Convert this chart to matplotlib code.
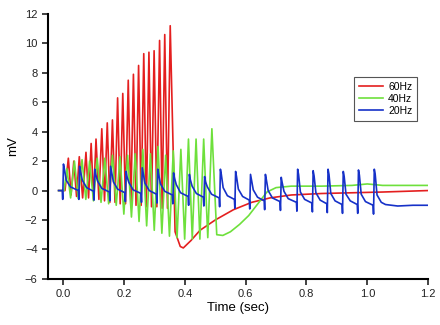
import numpy as np
import matplotlib
matplotlib.use("Agg")
import matplotlib.pyplot as plt

plt.rcParams['font.family'] = ['Liberation Sans', 'DejaVu Sans']

# 60Hz trace: spike peaks, troughs between them, and recovery after the train
red_peak_t = [0.017, 0.035, 0.053, 0.075, 0.092, 0.108, 0.127, 0.145, 0.162, 0.179,
              0.196, 0.214, 0.231, 0.248, 0.265, 0.282, 0.299, 0.317, 0.334, 0.352]
red_peak_v = [2.2, 2.0, 2.3, 2.6, 3.2, 3.5, 4.2, 4.6, 4.8, 6.3,
              6.6, 7.5, 7.9, 8.5, 9.3, 9.4, 9.5, 10.2, 10.6, 11.2]
red_trough_v = [-0.3, -0.4, -0.5, -0.5, -0.6, -0.6, -0.7, -0.8, -0.8, -0.9,
                -0.9, -1.0, -1.0, -1.0, -1.1, -1.1, -1.1, -1.2, -1.2]
red_tail_t = [0.368, 0.385, 0.395, 0.42, 0.45, 0.5, 0.56, 0.62, 0.68, 0.75, 0.85, 0.95, 1.05, 1.2]
red_tail_v = [-2.8, -3.8, -3.9, -3.4, -2.7, -2.0, -1.3, -0.8, -0.5, -0.3, -0.2, -0.15, -0.1, 0.0]

# 40Hz trace
green_peak_t = [0.012, 0.037, 0.062, 0.087, 0.112, 0.137, 0.162, 0.187, 0.212, 0.237,
                0.262, 0.287, 0.312, 0.337, 0.362, 0.387, 0.412, 0.437, 0.462, 0.489]
green_peak_v = [1.5, 2.0, 2.1, 2.0, 2.2, 2.2, 2.4, 2.3, 2.4, 2.5,
                2.8, 2.5, 3.0, 2.4, 2.7, 2.8, 3.5, 3.5, 3.5, 4.2]
green_trough_v = [-0.5, -0.55, -0.6, -0.7, -0.8, -0.9, -1.0, -1.6, -1.8, -2.1,
                  -2.4, -2.7, -2.9, -3.1, -3.2, -3.3, -3.3, -3.3, -3.2]
green_tail_t = [0.505, 0.525, 0.55, 0.58, 0.61, 0.64, 0.67, 0.7, 0.75, 0.85, 0.95, 1.0, 1.05, 1.2]
green_tail_v = [-3.0, -3.05, -2.8, -2.3, -1.7, -0.9, -0.1, 0.2, 0.3, 0.3, 0.35, 0.45, 0.35, 0.35]

# 20Hz trace: level before each spike, onset dip, peak, then the decay
blue_peak_t = [0.0, 0.053, 0.103, 0.155, 0.206, 0.259, 0.31, 0.362, 0.414, 0.464, 0.516,
               0.566, 0.615, 0.664, 0.716, 0.77, 0.821, 0.87, 0.92, 0.97, 1.022]
blue_base_v = [0.0, 0.0, -0.05, -0.1, -0.15, -0.2, -0.25, -0.3, -0.4, -0.45, -0.5,
               -0.6, -0.65, -0.7, -0.75, -0.8, -0.85, -0.9, -0.95, -0.95, -1.0]
blue_dip_v = [-0.6, -0.6, -0.65, -0.7, -0.75, -0.8, -0.85, -0.9, -1.0, -1.05, -1.1,
              -1.2, -1.25, -1.3, -1.35, -1.4, -1.45, -1.5, -1.55, -1.55, -1.6]
blue_peak_v = [1.8, 1.65, 1.45, 1.65, 1.3, 1.55, 1.45, 1.2, 1.1, 0.95, 1.45,
               1.3, 1.1, 1.1, 0.9, 1.45, 1.35, 1.45, 1.3, 1.4, 1.45]
blue_knee_v = [1.45, 1.3, 1.1, 1.3, 0.95, 1.2, 1.1, 0.85, 0.75, 0.6, 1.1,
               0.95, 0.75, 0.75, 0.55, 1.1, 1.0, 1.1, 0.95, 1.05, 1.1]
blue_decay_v = [0.7, 0.7, 0.65, 0.6, 0.55, 0.5, 0.45, 0.4, 0.3, 0.25, 0.2,
                0.1, 0.05, 0.0, -0.05, -0.1, -0.15, -0.2, -0.25, -0.25, -0.3]
blue_settle_v = [0.25, 0.2, 0.15, 0.1, 0.05, 0.0, -0.05, -0.15, -0.2, -0.25, -0.35,
                 -0.4, -0.45, -0.5, -0.55, -0.6, -0.65, -0.7, -0.7, -0.75, -0.8]
blue_tail_t = [1.06, 1.1, 1.15, 1.2]
blue_tail_v = [-0.95, -1.05, -1.0, -1.0]


def train(peak_t, peak_v, trough_v, tail_t, tail_v, lead):
    t = [-0.015, lead]
    v = [0.0, 0.0]
    for i in range(len(peak_t)):
        t.append(peak_t[i])
        v.append(peak_v[i])
        if i < len(trough_v):
            t.append((peak_t[i] + peak_t[i + 1]) / 2)
            v.append(trough_v[i])
    return t + tail_t, v + tail_v


def blue_train():
    t = [-0.015]
    v = [0.0]
    for i in range(len(blue_peak_t)):
        tp = blue_peak_t[i]
        t += [tp - 0.003, tp - 0.0015, tp + 0.001, tp + 0.004, tp + 0.01, tp + 0.024]
        v += [blue_base_v[i], blue_dip_v[i], blue_peak_v[i], blue_knee_v[i],
              blue_decay_v[i], blue_settle_v[i]]
    return t + blue_tail_t, v + blue_tail_v


rt, rv = train(red_peak_t, red_peak_v, red_trough_v, red_tail_t, red_tail_v, 0.006)
gt, gv = train(green_peak_t, green_peak_v, green_trough_v, green_tail_t, green_tail_v, 0.003)
bt, bv = blue_train()

fig = plt.figure(figsize=(4.4, 3.25), dpi=100)
ax = fig.add_axes([0.109, 0.142, 0.864, 0.815])

ax.plot(rt, rv, color='#e41f1f', lw=1.2, label='60Hz')
ax.plot(gt, gv, color='#6ee03c', lw=1.2, label='40Hz')
ax.plot(bt, bv, color='#1631c8', lw=1.2, label='20Hz')

ax.set_xlim(-0.05, 1.2)
ax.set_ylim(-6, 12)
ax.set_xticks(np.arange(0, 1.21, 0.2))
ax.set_xticklabels(['0.0', '0.2', '0.4', '0.6', '0.8', '1.0', '1.2'])
ax.set_yticks(range(-6, 13, 2))
ax.spines['top'].set_visible(False)
ax.spines['right'].set_visible(False)
ax.spines['left'].set_linewidth(1.5)
ax.spines['bottom'].set_linewidth(1.5)
ax.tick_params(labelsize=8, width=1.2, length=4, colors='#222222')
ax.set_xlabel('Time (sec)', fontsize=9.5, labelpad=2)
ax.set_ylabel('mV', fontsize=9.5, labelpad=4)

leg = ax.legend(loc='upper right', bbox_to_anchor=(0.971, 0.762), borderaxespad=0,
                fontsize=7.5, fancybox=False, framealpha=1, edgecolor='#555555',
                handlelength=2.3, handletextpad=0.5, borderpad=0.45, labelspacing=0.2)
leg.get_frame().set_linewidth(0.8)

fig.savefig('out.png', dpi=100)
